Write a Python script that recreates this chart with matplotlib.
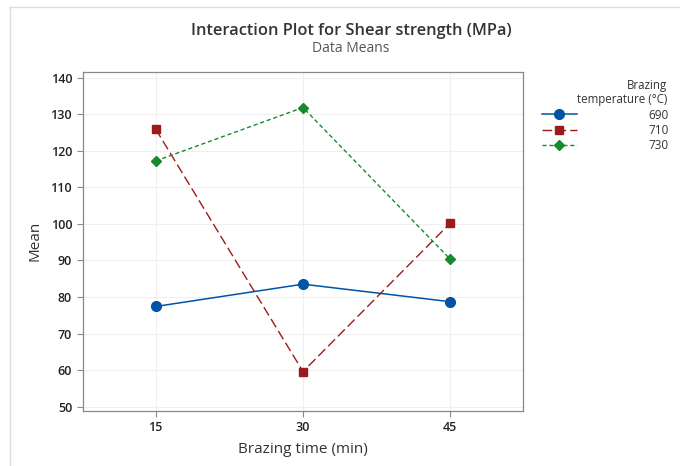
import matplotlib
matplotlib.use("Agg")
import matplotlib.pyplot as plt
from matplotlib.lines import Line2D

plt.rcParams['font.family'] = ['Open Sans', 'DejaVu Sans']

brazing_time = [15, 30, 45]
temps = ["690", "710", "730"]
mean_690 = [77.4, 83.5, 78.7]
mean_710 = [125.9, 59.6, 100.2]
mean_730 = [117.2, 131.8, 90.3]

fig = plt.figure(figsize=(6.8, 4.66), dpi=100)
ax = fig.add_axes([82.5 / 680, 1 - 410.7 / 466, (523 - 82.5) / 680, (410.7 - 71.7) / 466])

# light frame lines around the window
fig.add_artist(Line2D([10 / 680, 1], [1 - 7 / 466, 1 - 7 / 466], color="#dddddd", lw=1))
fig.add_artist(Line2D([10 / 680, 10 / 680], [0, 1 - 7 / 466], color="#dddddd", lw=1))

ax.plot(brazing_time, mean_690, color="#0054a6", lw=1.1, ls="-", marker="o", ms=7, label=temps[0])
ax.plot(brazing_time, mean_710, color="#9b1b1b", lw=1.0, ls=(0, (7, 3)), marker="s", ms=5.5, label=temps[1])
ax.plot(brazing_time, mean_730, color="#168a2e", lw=1.0, ls=(0, (3, 2)), marker="D", ms=5, label=temps[2])

ax.set_xlim(7.55, 52.4)
ax.set_ylim(48.9, 141.6)
ax.set_xticks(brazing_time)
ax.set_yticks(range(50, 141, 10))
ax.grid(True, color="#efefef", lw=0.8)
ax.set_axisbelow(True)
for s in ax.spines.values():
    s.set_color("#888888")
    s.set_linewidth(0.9)
ax.tick_params(colors="#888888", labelcolor="#222222", labelsize=9, length=4, width=0.8)
for lab in ax.get_xticklabels() + ax.get_yticklabels():
    lab.set_fontweight("semibold")

ax.set_xlabel("Brazing time (min)", fontsize=11, color="#333333", labelpad=6)
ax.set_ylabel("Mean", fontsize=11, color="#333333", labelpad=6)

fig.text(351 / 680, 1 - 31 / 466, "Interaction Plot for Shear strength (MPa)", ha="center", va="center",
         fontsize=11.8, fontweight="semibold", color="#333333")
fig.text(351 / 680, 1 - 49 / 466, "Data Means", ha="center", va="center", fontsize=10, color="#555555")

fig.text(667 / 680, 1 - 86 / 466, "Brazing", ha="right", va="center", fontsize=8.3, color="#333333")
fig.text(667 / 680, 1 - 100 / 466, "temperature (°C)", ha="right", va="center", fontsize=8.3, color="#333333")
leg = fig.legend(loc="upper right", bbox_to_anchor=(679 / 680, 1 - 98 / 466), frameon=False,
                 fontsize=8.5, handlelength=3.0, handletextpad=6.0, labelspacing=0.2, markerfirst=True)
for t in leg.get_texts():
    t.set_color("#333333")

fig.savefig("out.png", dpi=100, facecolor="white")
